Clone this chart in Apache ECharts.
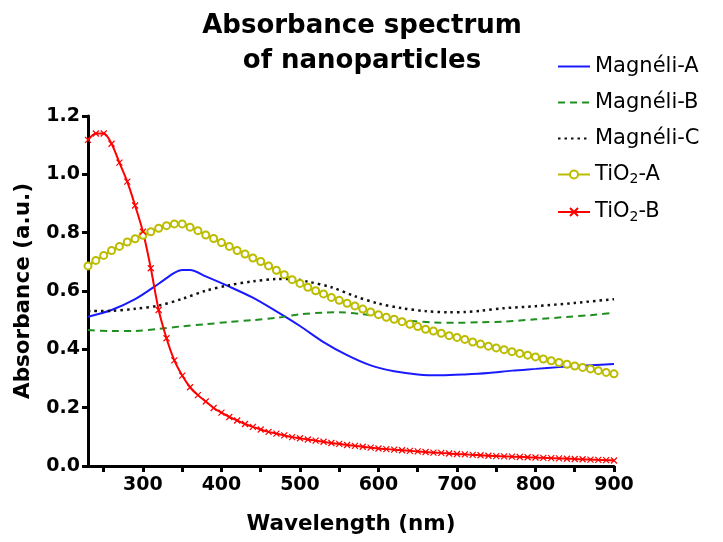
<!DOCTYPE html>
<html>
<head>
<meta charset="utf-8">
<script src="https://cdn.jsdelivr.net/npm/echarts@6/dist/echarts.min.js"></script>
<style>
  html, body { margin: 0; padding: 0; background: #fff; }
  #chart { width: 723px; height: 542px; }
</style>
</head>
<body>
<div id="chart"></div>
<script>
// wavelengths (nm) and absorbance
const wlMagA = [230, 260, 290, 320, 340, 350, 360, 380, 410, 440, 470, 500, 530, 560, 590, 620, 650, 680, 710, 740, 770, 800, 830, 860, 900];
const magA   = [0.512, 0.535, 0.572, 0.625, 0.662, 0.672, 0.672, 0.650, 0.615, 0.577, 0.530, 0.480, 0.425, 0.380, 0.345, 0.325, 0.314, 0.311, 0.314, 0.319, 0.327, 0.333, 0.339, 0.344, 0.350];

const wlMagB = [230, 260, 290, 320, 350, 380, 410, 440, 470, 500, 530, 550, 580, 610, 640, 670, 700, 730, 760, 800, 840, 870, 900];
const magB   = [0.466, 0.463, 0.463, 0.470, 0.479, 0.486, 0.494, 0.500, 0.508, 0.520, 0.526, 0.527, 0.520, 0.509, 0.498, 0.492, 0.491, 0.493, 0.495, 0.503, 0.511, 0.517, 0.525];

const wlMagC = [230, 260, 290, 320, 350, 380, 410, 440, 470, 490, 510, 540, 570, 600, 630, 660, 690, 710, 730, 760, 800, 850, 900];
const magC   = [0.531, 0.532, 0.539, 0.550, 0.573, 0.601, 0.620, 0.633, 0.641, 0.641, 0.632, 0.613, 0.582, 0.557, 0.541, 0.531, 0.527, 0.528, 0.532, 0.541, 0.548, 0.559, 0.572];

const wlTiO2 = [230, 240, 250, 260, 270, 280, 290, 300, 310, 320, 330, 340, 350, 360, 370, 380, 390, 400, 410, 420,
  430, 440, 450, 460, 470, 480, 490, 500, 510, 520, 530, 540, 550, 560, 570, 580, 590, 600, 610, 620,
  630, 640, 650, 660, 670, 680, 690, 700, 710, 720, 730, 740, 750, 760, 770, 780, 790, 800, 810, 820,
  830, 840, 850, 860, 870, 880, 890, 900];
const tio2A = [0.686, 0.705, 0.722, 0.739, 0.753, 0.768, 0.779, 0.791, 0.803, 0.815, 0.824, 0.830, 0.830, 0.819, 0.807, 0.792, 0.780, 0.766, 0.753, 0.739,
  0.727, 0.713, 0.701, 0.686, 0.671, 0.656, 0.639, 0.626, 0.613, 0.601, 0.590, 0.578, 0.568, 0.558, 0.549, 0.538, 0.528, 0.519, 0.510, 0.503,
  0.495, 0.486, 0.478, 0.469, 0.463, 0.455, 0.447, 0.441, 0.434, 0.425, 0.418, 0.411, 0.405, 0.399, 0.392, 0.386, 0.380, 0.374, 0.367, 0.361,
  0.355, 0.349, 0.343, 0.338, 0.333, 0.327, 0.321, 0.316];
const tio2B = [1.118, 1.140, 1.140, 1.105, 1.040, 0.975, 0.893, 0.803, 0.678, 0.535, 0.438, 0.362, 0.310, 0.270, 0.243, 0.221, 0.199, 0.183, 0.168, 0.156,
  0.144, 0.134, 0.125, 0.117, 0.111, 0.105, 0.099, 0.095, 0.091, 0.087, 0.083, 0.079, 0.076, 0.072, 0.069, 0.066, 0.063, 0.060, 0.058, 0.056,
  0.054, 0.052, 0.050, 0.048, 0.046, 0.045, 0.043, 0.041, 0.040, 0.038, 0.037, 0.035, 0.034, 0.033, 0.032, 0.031, 0.030, 0.029, 0.028, 0.027,
  0.026, 0.025, 0.024, 0.023, 0.022, 0.021, 0.020, 0.019];

const xLabels = [300, 400, 500, 600, 700, 800, 900];
const xTicks = [250, 300, 350, 400, 450, 500, 550, 600, 650, 700, 750, 800, 850, 900];

const font = 'DejaVu Sans';
const pairs = (xs, ys) => xs.map((x, i) => [x, ys[i]]);

const chart = echarts.init(document.getElementById('chart'));

// 图表配置
const option = {
  animation: false,
  title: {
    text: 'Absorbance spectrum\nof nanoparticles',
    left: 357,
    top: 4,
    textAlign: 'center',
    textStyle: { fontFamily: font, fontWeight: 'bold', fontSize: 26, lineHeight: 35, color: '#000' }
  },
  legend: {
    orient: 'vertical',
    left: 552,
    top: 51,
    itemWidth: 32,
    itemHeight: 10,
    itemGap: 15,
    data: [
      { name: 'Magnéli-A', itemStyle: { opacity: 0 } },
      { name: 'Magnéli-B', itemStyle: { opacity: 0 } },
      { name: 'Magnéli-C', itemStyle: { opacity: 0 } },
      { name: 'TiO2-A' },
      { name: 'TiO2-B' }
    ],
    formatter: name => name.replace('TiO2', 'TiO{s|2}'),
    textStyle: {
      fontFamily: font, fontSize: 21, color: '#000',
      rich: { s: { fontFamily: font, fontSize: 14, padding: [10, 0, 0, 0] } }
    }
  },
  grid: { left: 88, right: 109, top: 116, bottom: 76 },
  xAxis: {
    type: 'value',
    min: 230,
    max: 900,
    name: 'Wavelength (nm)',
    nameLocation: 'middle',
    nameGap: 47,
    nameTextStyle: { fontFamily: font, fontWeight: 'bold', fontSize: 21.5, color: '#000' },
    axisLine: { lineStyle: { color: '#000', width: 3 } },
    axisTick: { customValues: xTicks, length: 6, lineStyle: { color: '#000', width: 3 } },
    axisLabel: { customValues: xLabels, margin: 10, fontFamily: font, fontWeight: 'bold', fontSize: 19, color: '#000' },
    splitLine: { show: false }
  },
  yAxis: {
    type: 'value',
    min: 0,
    max: 1.2,
    interval: 0.2,
    name: 'Absorbance (a.u.)',
    nameLocation: 'middle',
    nameGap: 54,
    nameTextStyle: { fontFamily: font, fontWeight: 'bold', fontSize: 21.5, color: '#000' },
    axisLine: { show: true, lineStyle: { color: '#000', width: 3 } },
    axisTick: { show: true, length: 6, lineStyle: { color: '#000', width: 3 } },
    axisLabel: { margin: 8, formatter: v => v.toFixed(1), fontFamily: font, fontWeight: 'bold', fontSize: 19, color: '#000' },
    splitLine: { show: false }
  },
  series: [
    {
      name: 'Magnéli-A', type: 'line', smooth: 0.3, showSymbol: false, symbol: 'none',
      data: pairs(wlMagA, magA),
      lineStyle: { color: '#1a1aff', width: 2 }, itemStyle: { color: '#1a1aff' }
    },
    {
      name: 'Magnéli-B', type: 'line', smooth: 0.3, showSymbol: false, symbol: 'none',
      data: pairs(wlMagB, magB),
      lineStyle: { color: '#1f8f1f', width: 2, type: [7, 5] }, itemStyle: { color: '#1f8f1f' }
    },
    {
      name: 'Magnéli-C', type: 'line', smooth: 0.3, showSymbol: false, symbol: 'none',
      data: pairs(wlMagC, magC),
      lineStyle: { color: '#111', width: 2.5, type: [2.5, 4] }, itemStyle: { color: '#111' }
    },
    {
      name: 'TiO2-A', type: 'line', smooth: 0.3,
      data: pairs(wlTiO2, tio2A),
      symbol: 'emptyCircle', symbolSize: 7,
      lineStyle: { color: '#bcbc00', width: 2.5 },
      itemStyle: { color: '#bcbc00', borderColor: 'rgba(200,200,40,0.55)', borderWidth: 1 }
    },
    {
      name: 'TiO2-B', type: 'line', smooth: 0.3,
      data: pairs(wlTiO2, tio2B),
      symbol: 'path://M0,0L10,10M10,0L0,10', symbolSize: 6,
      lineStyle: { color: '#ff0000', width: 2 },
      itemStyle: { color: '#ff0000', borderColor: '#ff0000', borderWidth: 1.2 }
    }
  ]
};

chart.setOption(option);
</script>
</body>
</html>
